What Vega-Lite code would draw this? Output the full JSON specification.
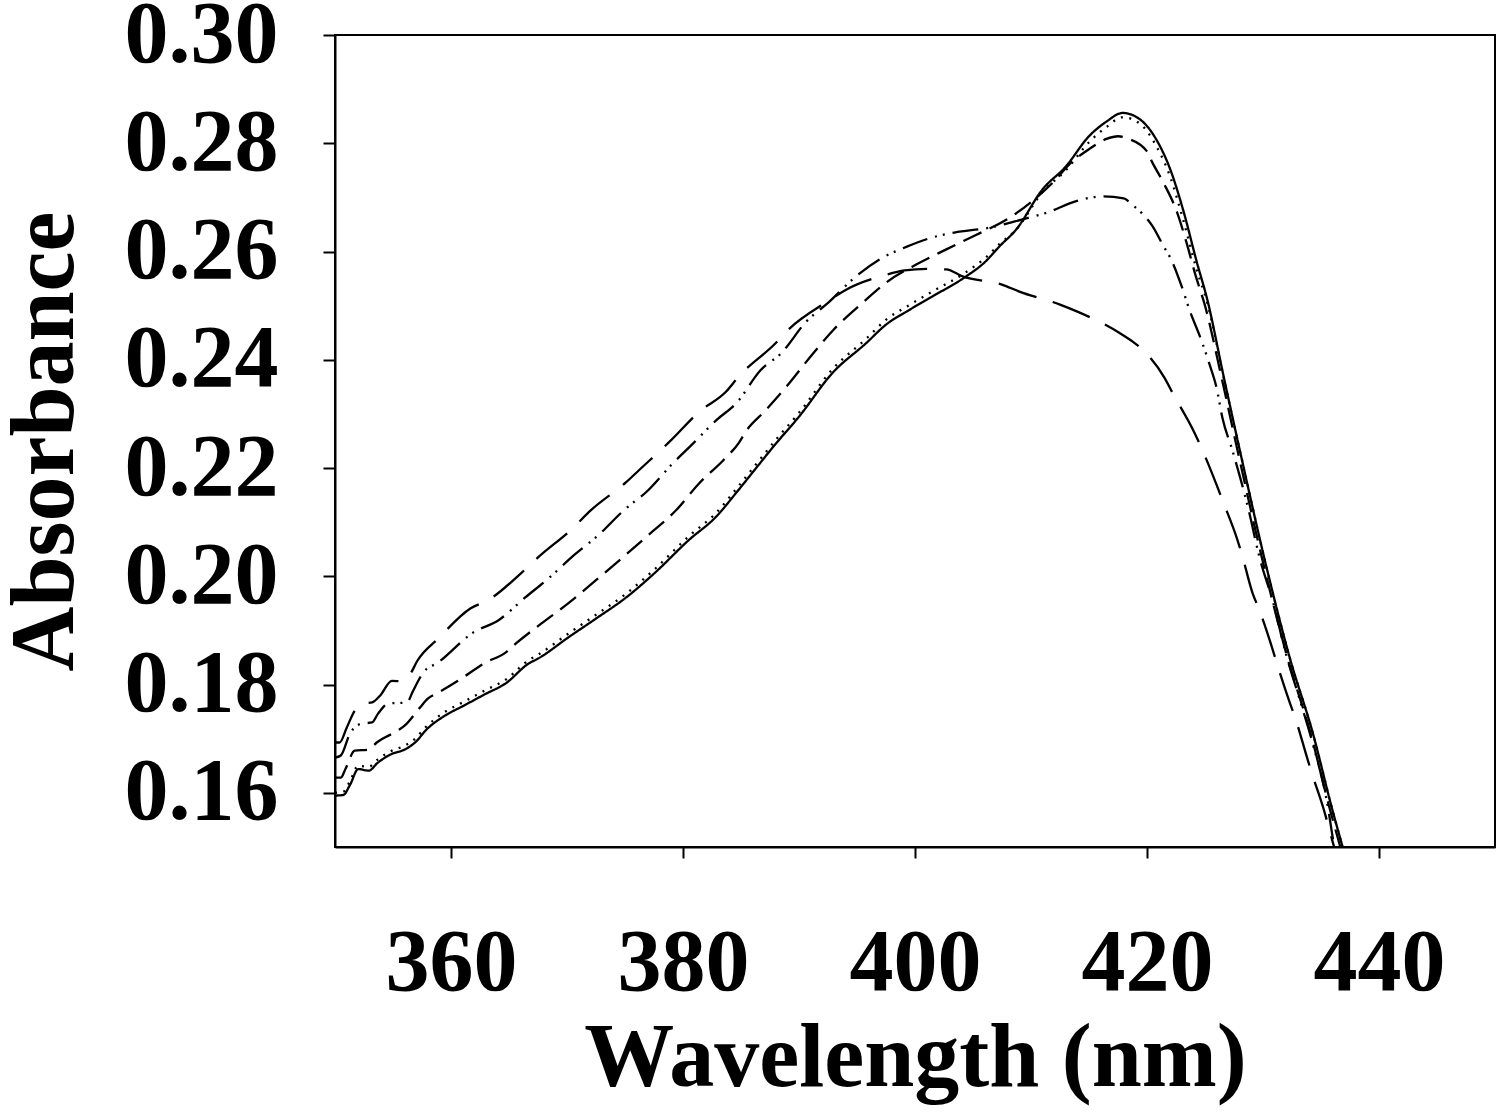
{
  "$schema": "https://vega.github.io/schema/vega-lite/v6.json",
  "description": "Absorbance spectra, five traces",
  "width": 1160,
  "height": 812,
  "autosize": "none",
  "padding": {"left": 335, "top": 35, "right": 5, "bottom": 270},
  "background": "white",
  "config": {
    "view": {"stroke": "black", "strokeWidth": 2},
    "axis": {
      "labelFont": "Liberation Serif",
      "labelFontWeight": "bold",
      "labelFontSize": 88,
      "labelColor": "black",
      "titleFont": "Liberation Serif",
      "titleFontWeight": "bold",
      "titleFontSize": 90,
      "titleColor": "black",
      "domainColor": "black",
      "domainWidth": 2,
      "tickColor": "black",
      "tickWidth": 2,
      "grid": false,
      "labelOverlap": false,
      "labelFlush": false
    }
  },
  "data": {
    "values": [
      {"series": "A", "wavelength": 350.0, "absorbance": 0.1595},
      {"series": "A", "wavelength": 350.7, "absorbance": 0.1596},
      {"series": "A", "wavelength": 351.3, "absorbance": 0.1615},
      {"series": "A", "wavelength": 352.0, "absorbance": 0.1644},
      {"series": "A", "wavelength": 352.9, "absorbance": 0.1641},
      {"series": "A", "wavelength": 353.7, "absorbance": 0.1656},
      {"series": "A", "wavelength": 354.9, "absorbance": 0.1672},
      {"series": "A", "wavelength": 356.0, "absorbance": 0.1680},
      {"series": "A", "wavelength": 357.0, "absorbance": 0.1695},
      {"series": "A", "wavelength": 357.8, "absorbance": 0.1715},
      {"series": "A", "wavelength": 359.5, "absorbance": 0.1743},
      {"series": "A", "wavelength": 361.0, "absorbance": 0.1760},
      {"series": "A", "wavelength": 363.0, "absorbance": 0.1783},
      {"series": "A", "wavelength": 364.7, "absorbance": 0.1802},
      {"series": "A", "wavelength": 366.7, "absorbance": 0.1839},
      {"series": "A", "wavelength": 367.5, "absorbance": 0.1848},
      {"series": "A", "wavelength": 370.1, "absorbance": 0.1887},
      {"series": "A", "wavelength": 372.5, "absorbance": 0.1922},
      {"series": "A", "wavelength": 375.1, "absorbance": 0.1961},
      {"series": "A", "wavelength": 377.6, "absorbance": 0.2007},
      {"series": "A", "wavelength": 380.5, "absorbance": 0.2067},
      {"series": "A", "wavelength": 382.8, "absorbance": 0.2109},
      {"series": "A", "wavelength": 384.8, "absorbance": 0.2160},
      {"series": "A", "wavelength": 386.3, "absorbance": 0.2200},
      {"series": "A", "wavelength": 388.0, "absorbance": 0.2245},
      {"series": "A", "wavelength": 390.0, "absorbance": 0.2295},
      {"series": "A", "wavelength": 392.9, "absorbance": 0.2376},
      {"series": "A", "wavelength": 395.8, "absorbance": 0.2431},
      {"series": "A", "wavelength": 397.5, "absorbance": 0.2465},
      {"series": "A", "wavelength": 399.5, "absorbance": 0.2492},
      {"series": "A", "wavelength": 401.5, "absorbance": 0.2517},
      {"series": "A", "wavelength": 404.4, "absorbance": 0.2554},
      {"series": "A", "wavelength": 406.0, "absorbance": 0.2580},
      {"series": "A", "wavelength": 407.3, "absorbance": 0.2610},
      {"series": "A", "wavelength": 408.7, "absorbance": 0.2640},
      {"series": "A", "wavelength": 411.0, "absorbance": 0.2715},
      {"series": "A", "wavelength": 413.0, "absorbance": 0.2757},
      {"series": "A", "wavelength": 415.0, "absorbance": 0.2813},
      {"series": "A", "wavelength": 416.5, "absorbance": 0.2840},
      {"series": "A", "wavelength": 417.9, "absorbance": 0.2856},
      {"series": "A", "wavelength": 419.4, "absorbance": 0.2844},
      {"series": "A", "wavelength": 420.8, "absorbance": 0.2807},
      {"series": "A", "wavelength": 422.0, "absorbance": 0.2752},
      {"series": "A", "wavelength": 423.1, "absorbance": 0.2678},
      {"series": "A", "wavelength": 424.3, "absorbance": 0.2580},
      {"series": "A", "wavelength": 425.2, "absorbance": 0.2511},
      {"series": "A", "wavelength": 426.6, "absorbance": 0.2370},
      {"series": "A", "wavelength": 428.0, "absorbance": 0.2233},
      {"series": "A", "wavelength": 430.3, "absorbance": 0.2017},
      {"series": "A", "wavelength": 432.3, "absorbance": 0.1850},
      {"series": "A", "wavelength": 434.3, "absorbance": 0.1710},
      {"series": "A", "wavelength": 436.0, "absorbance": 0.1567},
      {"series": "A", "wavelength": 437.0, "absorbance": 0.1490},

      {"series": "B", "wavelength": 350.0, "absorbance": 0.1600},
      {"series": "B", "wavelength": 350.7, "absorbance": 0.1602},
      {"series": "B", "wavelength": 351.3, "absorbance": 0.1622},
      {"series": "B", "wavelength": 352.0, "absorbance": 0.1650},
      {"series": "B", "wavelength": 352.9, "absorbance": 0.1648},
      {"series": "B", "wavelength": 353.7, "absorbance": 0.1662},
      {"series": "B", "wavelength": 354.9, "absorbance": 0.1678},
      {"series": "B", "wavelength": 356.0, "absorbance": 0.1687},
      {"series": "B", "wavelength": 357.0, "absorbance": 0.1702},
      {"series": "B", "wavelength": 357.8, "absorbance": 0.1721},
      {"series": "B", "wavelength": 359.5, "absorbance": 0.1750},
      {"series": "B", "wavelength": 361.0, "absorbance": 0.1767},
      {"series": "B", "wavelength": 363.0, "absorbance": 0.1790},
      {"series": "B", "wavelength": 364.7, "absorbance": 0.1809},
      {"series": "B", "wavelength": 366.7, "absorbance": 0.1845},
      {"series": "B", "wavelength": 367.5, "absorbance": 0.1855},
      {"series": "B", "wavelength": 370.1, "absorbance": 0.1894},
      {"series": "B", "wavelength": 372.5, "absorbance": 0.1929},
      {"series": "B", "wavelength": 375.1, "absorbance": 0.1968},
      {"series": "B", "wavelength": 377.6, "absorbance": 0.2014},
      {"series": "B", "wavelength": 380.5, "absorbance": 0.2074},
      {"series": "B", "wavelength": 382.8, "absorbance": 0.2116},
      {"series": "B", "wavelength": 384.8, "absorbance": 0.2167},
      {"series": "B", "wavelength": 386.3, "absorbance": 0.2207},
      {"series": "B", "wavelength": 388.0, "absorbance": 0.2252},
      {"series": "B", "wavelength": 390.0, "absorbance": 0.2302},
      {"series": "B", "wavelength": 392.9, "absorbance": 0.2383},
      {"series": "B", "wavelength": 395.8, "absorbance": 0.2439},
      {"series": "B", "wavelength": 397.5, "absorbance": 0.2474},
      {"series": "B", "wavelength": 399.5, "absorbance": 0.2501},
      {"series": "B", "wavelength": 401.5, "absorbance": 0.2526},
      {"series": "B", "wavelength": 404.4, "absorbance": 0.2562},
      {"series": "B", "wavelength": 406.0, "absorbance": 0.2587},
      {"series": "B", "wavelength": 407.3, "absorbance": 0.2614},
      {"series": "B", "wavelength": 408.7, "absorbance": 0.2640},
      {"series": "B", "wavelength": 411.0, "absorbance": 0.2710},
      {"series": "B", "wavelength": 413.0, "absorbance": 0.2750},
      {"series": "B", "wavelength": 415.0, "absorbance": 0.2802},
      {"series": "B", "wavelength": 416.5, "absorbance": 0.2830},
      {"series": "B", "wavelength": 417.9, "absorbance": 0.2848},
      {"series": "B", "wavelength": 419.4, "absorbance": 0.2836},
      {"series": "B", "wavelength": 420.8, "absorbance": 0.2795},
      {"series": "B", "wavelength": 422.0, "absorbance": 0.2738},
      {"series": "B", "wavelength": 423.1, "absorbance": 0.2660},
      {"series": "B", "wavelength": 424.3, "absorbance": 0.2565},
      {"series": "B", "wavelength": 425.2, "absorbance": 0.2505},
      {"series": "B", "wavelength": 426.6, "absorbance": 0.2368},
      {"series": "B", "wavelength": 428.0, "absorbance": 0.2233},
      {"series": "B", "wavelength": 430.3, "absorbance": 0.2017},
      {"series": "B", "wavelength": 432.3, "absorbance": 0.1850},
      {"series": "B", "wavelength": 434.3, "absorbance": 0.1710},
      {"series": "B", "wavelength": 436.0, "absorbance": 0.1567},
      {"series": "B", "wavelength": 437.0, "absorbance": 0.1490},

      {"series": "C", "wavelength": 350.0, "absorbance": 0.1628},
      {"series": "C", "wavelength": 350.5, "absorbance": 0.1628},
      {"series": "C", "wavelength": 350.9, "absorbance": 0.1644},
      {"series": "C", "wavelength": 351.7, "absorbance": 0.1678},
      {"series": "C", "wavelength": 352.9, "absorbance": 0.1680},
      {"series": "C", "wavelength": 353.6, "absorbance": 0.1693},
      {"series": "C", "wavelength": 355.4, "absorbance": 0.1715},
      {"series": "C", "wavelength": 356.0, "absorbance": 0.1724},
      {"series": "C", "wavelength": 357.3, "absorbance": 0.1757},
      {"series": "C", "wavelength": 358.0, "absorbance": 0.1774},
      {"series": "C", "wavelength": 358.9, "absorbance": 0.1785},
      {"series": "C", "wavelength": 360.6, "absorbance": 0.1807},
      {"series": "C", "wavelength": 363.0, "absorbance": 0.1841},
      {"series": "C", "wavelength": 364.7, "absorbance": 0.1859},
      {"series": "C", "wavelength": 365.6, "absorbance": 0.1876},
      {"series": "C", "wavelength": 367.8, "absorbance": 0.1913},
      {"series": "C", "wavelength": 370.1, "absorbance": 0.1950},
      {"series": "C", "wavelength": 372.5, "absorbance": 0.1993},
      {"series": "C", "wavelength": 374.7, "absorbance": 0.2033},
      {"series": "C", "wavelength": 377.0, "absorbance": 0.2076},
      {"series": "C", "wavelength": 379.4, "absorbance": 0.2122},
      {"series": "C", "wavelength": 381.4, "absorbance": 0.2172},
      {"series": "C", "wavelength": 383.5, "absorbance": 0.2215},
      {"series": "C", "wavelength": 384.8, "absorbance": 0.2246},
      {"series": "C", "wavelength": 385.5, "absorbance": 0.2270},
      {"series": "C", "wavelength": 387.0, "absorbance": 0.2304},
      {"series": "C", "wavelength": 388.9, "absorbance": 0.2350},
      {"series": "C", "wavelength": 391.0, "absorbance": 0.2406},
      {"series": "C", "wavelength": 393.0, "absorbance": 0.2456},
      {"series": "C", "wavelength": 395.2, "absorbance": 0.2500},
      {"series": "C", "wavelength": 397.6, "absorbance": 0.2544},
      {"series": "C", "wavelength": 400.1, "absorbance": 0.2576},
      {"series": "C", "wavelength": 402.7, "absorbance": 0.2604},
      {"series": "C", "wavelength": 405.3, "absorbance": 0.2631},
      {"series": "C", "wavelength": 407.9, "absorbance": 0.2659},
      {"series": "C", "wavelength": 410.1, "absorbance": 0.2693},
      {"series": "C", "wavelength": 412.0, "absorbance": 0.2730},
      {"series": "C", "wavelength": 413.3, "absorbance": 0.2761},
      {"series": "C", "wavelength": 415.0, "absorbance": 0.2789},
      {"series": "C", "wavelength": 416.5, "absorbance": 0.2808},
      {"series": "C", "wavelength": 417.5, "absorbance": 0.2813},
      {"series": "C", "wavelength": 418.3, "absorbance": 0.2809},
      {"series": "C", "wavelength": 420.0, "absorbance": 0.2785},
      {"series": "C", "wavelength": 420.4, "absorbance": 0.2767},
      {"series": "C", "wavelength": 421.4, "absorbance": 0.2728},
      {"series": "C", "wavelength": 422.6, "absorbance": 0.2672},
      {"series": "C", "wavelength": 423.4, "absorbance": 0.2617},
      {"series": "C", "wavelength": 424.2, "absorbance": 0.2555},
      {"series": "C", "wavelength": 425.0, "absorbance": 0.2500},
      {"series": "C", "wavelength": 426.4, "absorbance": 0.2370},
      {"series": "C", "wavelength": 427.8, "absorbance": 0.2233},
      {"series": "C", "wavelength": 430.1, "absorbance": 0.2017},
      {"series": "C", "wavelength": 432.1, "absorbance": 0.1850},
      {"series": "C", "wavelength": 434.1, "absorbance": 0.1710},
      {"series": "C", "wavelength": 435.8, "absorbance": 0.1567},
      {"series": "C", "wavelength": 436.8, "absorbance": 0.1490},

      {"series": "D", "wavelength": 350.0, "absorbance": 0.1665},
      {"series": "D", "wavelength": 350.5, "absorbance": 0.1669},
      {"series": "D", "wavelength": 351.3, "absorbance": 0.1710},
      {"series": "D", "wavelength": 352.3, "absorbance": 0.1728},
      {"series": "D", "wavelength": 353.2, "absorbance": 0.1730},
      {"series": "D", "wavelength": 353.7, "absorbance": 0.1746},
      {"series": "D", "wavelength": 354.6, "absorbance": 0.1765},
      {"series": "D", "wavelength": 356.2, "absorbance": 0.1767},
      {"series": "D", "wavelength": 356.7, "absorbance": 0.1787},
      {"series": "D", "wavelength": 357.1, "absorbance": 0.1804},
      {"series": "D", "wavelength": 357.6, "absorbance": 0.1822},
      {"series": "D", "wavelength": 358.9, "absorbance": 0.1841},
      {"series": "D", "wavelength": 361.9, "absorbance": 0.1896},
      {"series": "D", "wavelength": 364.1, "absorbance": 0.1919},
      {"series": "D", "wavelength": 366.4, "absorbance": 0.1961},
      {"series": "D", "wavelength": 368.4, "absorbance": 0.1996},
      {"series": "D", "wavelength": 370.6, "absorbance": 0.2039},
      {"series": "D", "wavelength": 372.7, "absorbance": 0.2076},
      {"series": "D", "wavelength": 374.9, "absorbance": 0.2122},
      {"series": "D", "wavelength": 377.0, "absorbance": 0.2159},
      {"series": "D", "wavelength": 379.0, "absorbance": 0.2206},
      {"series": "D", "wavelength": 380.9, "absorbance": 0.2246},
      {"series": "D", "wavelength": 382.9, "absorbance": 0.2289},
      {"series": "D", "wavelength": 384.6, "absorbance": 0.2320},
      {"series": "D", "wavelength": 386.7, "absorbance": 0.2381},
      {"series": "D", "wavelength": 388.5, "absorbance": 0.2413},
      {"series": "D", "wavelength": 390.6, "absorbance": 0.2470},
      {"series": "D", "wavelength": 392.6, "absorbance": 0.2507},
      {"series": "D", "wavelength": 394.8, "absorbance": 0.2552},
      {"series": "D", "wavelength": 396.9, "absorbance": 0.2585},
      {"series": "D", "wavelength": 399.3, "absorbance": 0.2609},
      {"series": "D", "wavelength": 401.5, "absorbance": 0.2626},
      {"series": "D", "wavelength": 403.4, "absorbance": 0.2635},
      {"series": "D", "wavelength": 406.4, "absorbance": 0.2644},
      {"series": "D", "wavelength": 409.2, "absorbance": 0.2659},
      {"series": "D", "wavelength": 411.4, "absorbance": 0.2672},
      {"series": "D", "wavelength": 413.9, "absorbance": 0.2693},
      {"series": "D", "wavelength": 416.2, "absorbance": 0.2702},
      {"series": "D", "wavelength": 418.0, "absorbance": 0.2698},
      {"series": "D", "wavelength": 418.7, "absorbance": 0.2687},
      {"series": "D", "wavelength": 420.5, "absorbance": 0.2646},
      {"series": "D", "wavelength": 421.5, "absorbance": 0.2607},
      {"series": "D", "wavelength": 422.0, "absorbance": 0.2589},
      {"series": "D", "wavelength": 423.0, "absorbance": 0.2535},
      {"series": "D", "wavelength": 423.7, "absorbance": 0.2490},
      {"series": "D", "wavelength": 424.6, "absorbance": 0.2441},
      {"series": "D", "wavelength": 425.4, "absorbance": 0.2391},
      {"series": "D", "wavelength": 426.0, "absorbance": 0.2348},
      {"series": "D", "wavelength": 426.5, "absorbance": 0.2293},
      {"series": "D", "wavelength": 427.4, "absorbance": 0.2230},
      {"series": "D", "wavelength": 428.7, "absorbance": 0.2128},
      {"series": "D", "wavelength": 429.7, "absorbance": 0.2035},
      {"series": "D", "wavelength": 430.9, "absorbance": 0.1950},
      {"series": "D", "wavelength": 431.9, "absorbance": 0.1863},
      {"series": "D", "wavelength": 433.2, "absorbance": 0.1770},
      {"series": "D", "wavelength": 434.3, "absorbance": 0.1690},
      {"series": "D", "wavelength": 435.5, "absorbance": 0.1585},
      {"series": "D", "wavelength": 436.2, "absorbance": 0.1490},

      {"series": "E", "wavelength": 350.0, "absorbance": 0.1693},
      {"series": "E", "wavelength": 350.4, "absorbance": 0.1693},
      {"series": "E", "wavelength": 351.0, "absorbance": 0.1720},
      {"series": "E", "wavelength": 351.7, "absorbance": 0.1752},
      {"series": "E", "wavelength": 352.4, "absorbance": 0.1765},
      {"series": "E", "wavelength": 353.2, "absorbance": 0.1767},
      {"series": "E", "wavelength": 353.9, "absorbance": 0.1780},
      {"series": "E", "wavelength": 354.9, "absorbance": 0.1807},
      {"series": "E", "wavelength": 355.8, "absorbance": 0.1806},
      {"series": "E", "wavelength": 356.5, "absorbance": 0.1820},
      {"series": "E", "wavelength": 357.1, "absorbance": 0.1844},
      {"series": "E", "wavelength": 358.9, "absorbance": 0.1885},
      {"series": "E", "wavelength": 361.7, "absorbance": 0.1941},
      {"series": "E", "wavelength": 363.2, "absorbance": 0.1956},
      {"series": "E", "wavelength": 366.1, "absorbance": 0.2007},
      {"series": "E", "wavelength": 367.5, "absorbance": 0.2035},
      {"series": "E", "wavelength": 370.6, "absorbance": 0.2091},
      {"series": "E", "wavelength": 371.9, "absorbance": 0.2119},
      {"series": "E", "wavelength": 375.1, "absorbance": 0.2174},
      {"series": "E", "wavelength": 376.2, "absorbance": 0.2196},
      {"series": "E", "wavelength": 379.0, "absorbance": 0.2252},
      {"series": "E", "wavelength": 381.4, "absorbance": 0.2304},
      {"series": "E", "wavelength": 383.7, "absorbance": 0.2341},
      {"series": "E", "wavelength": 384.8, "absorbance": 0.2369},
      {"series": "E", "wavelength": 388.0, "absorbance": 0.2431},
      {"series": "E", "wavelength": 389.1, "absorbance": 0.2456},
      {"series": "E", "wavelength": 392.4, "absorbance": 0.2507},
      {"series": "E", "wavelength": 394.1, "absorbance": 0.2530},
      {"series": "E", "wavelength": 397.5, "absorbance": 0.2557},
      {"series": "E", "wavelength": 399.1, "absorbance": 0.2565},
      {"series": "E", "wavelength": 401.0, "absorbance": 0.2568},
      {"series": "E", "wavelength": 402.7, "absorbance": 0.2567},
      {"series": "E", "wavelength": 404.1, "absorbance": 0.2554},
      {"series": "E", "wavelength": 407.5, "absorbance": 0.2539},
      {"series": "E", "wavelength": 409.0, "absorbance": 0.2526},
      {"series": "E", "wavelength": 412.5, "absorbance": 0.2502},
      {"series": "E", "wavelength": 414.0, "absorbance": 0.2489},
      {"series": "E", "wavelength": 417.6, "absorbance": 0.2450},
      {"series": "E", "wavelength": 418.8, "absorbance": 0.2433},
      {"series": "E", "wavelength": 419.8, "absorbance": 0.2415},
      {"series": "E", "wavelength": 421.5, "absorbance": 0.2367},
      {"series": "E", "wavelength": 422.2, "absorbance": 0.2339},
      {"series": "E", "wavelength": 424.1, "absorbance": 0.2265},
      {"series": "E", "wavelength": 424.7, "absorbance": 0.2237},
      {"series": "E", "wavelength": 426.0, "absorbance": 0.2169},
      {"series": "E", "wavelength": 426.5, "absorbance": 0.2141},
      {"series": "E", "wavelength": 427.8, "absorbance": 0.2067},
      {"series": "E", "wavelength": 428.2, "absorbance": 0.2039},
      {"series": "E", "wavelength": 429.1, "absorbance": 0.1969},
      {"series": "E", "wavelength": 429.7, "absorbance": 0.1937},
      {"series": "E", "wavelength": 430.8, "absorbance": 0.1867},
      {"series": "E", "wavelength": 431.2, "absorbance": 0.1839},
      {"series": "E", "wavelength": 432.3, "absorbance": 0.1767},
      {"series": "E", "wavelength": 432.8, "absorbance": 0.1737},
      {"series": "E", "wavelength": 433.8, "absorbance": 0.1665},
      {"series": "E", "wavelength": 434.2, "absorbance": 0.1637},
      {"series": "E", "wavelength": 435.2, "absorbance": 0.1572},
      {"series": "E", "wavelength": 436.0, "absorbance": 0.1510},
      {"series": "E", "wavelength": 436.4, "absorbance": 0.1480}
    ]
  },
  "mark": {"type": "line", "clip": true, "color": "black", "strokeWidth": 2.3, "interpolate": "monotone"},
  "encoding": {
    "x": {
      "field": "wavelength",
      "type": "quantitative",
      "scale": {"domain": [350, 450], "nice": false, "zero": false},
      "axis": {
        "title": "Wavelength (nm)",
        "values": [360, 380, 400, 420, 440],
        "tickSize": 11,
        "labelBaseline": "alphabetic",
        "labelPadding": 131,
        "titleY": 238,
        "titleBaseline": "alphabetic"
      }
    },
    "y": {
      "field": "absorbance",
      "type": "quantitative",
      "scale": {"domain": [0.15, 0.30], "nice": false, "zero": false},
      "axis": {
        "title": "Absorbance",
        "values": [0.16, 0.18, 0.20, 0.22, 0.24, 0.26, 0.28, 0.30],
        "format": ".2f",
        "tickSize": 12,
        "labelPadding": 45,
        "titleAngle": 270,
        "titleX": -263,
        "titleBaseline": "alphabetic"
      }
    },
    "detail": {"field": "series", "type": "nominal"},
    "strokeDash": {
      "field": "series",
      "type": "nominal",
      "scale": {
        "domain": ["A", "B", "C", "D", "E"],
        "range": [[1, 0], [2, 6.5], [20, 9], [26, 8, 2, 6, 2, 8], [40, 17]]
      },
      "legend": null
    }
  }
}
